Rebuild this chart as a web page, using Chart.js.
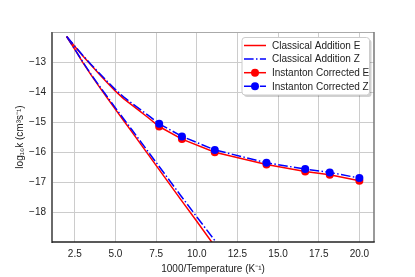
<!DOCTYPE html>
<html>
<head>
<meta charset="utf-8">
<script src="https://cdn.jsdelivr.net/npm/chart.js@4/dist/chart.umd.min.js"></script>
<style>
  html, body { margin: 0; padding: 0; background: #ffffff; }
  #wrap { width: 415px; height: 277px; }
</style>
</head>
<body>
<div id="wrap"><canvas id="c" width="415" height="277"></canvas></div>
<script>
// ---- data ----
const seriesLabels = ["Classical Addition E", "Classical Addition Z", "Instanton Corrected E", "Instanton Corrected Z"];

const classicalX = [2, 2.5, 3, 3.5, 4, 4.5, 5, 5.5, 6, 7, 8, 9, 10, 11, 12];
const classicalE = [-12.15, -12.58, -13.02, -13.43, -13.82, -14.2, -14.58, -14.95, -15.32, -16.07, -16.82, -17.57, -18.31, -19.06, -19.8];
const classicalZ = [-12.15, -12.57, -13.0, -13.41, -13.79, -14.16, -14.53, -14.89, -15.25, -15.98, -16.71, -17.44, -18.16, -18.87, -19.6];

const instantonX = [2, 2.5, 3, 3.5, 4, 4.5, 5, 5.5, 6, 6.5, 7, 7.69, 9.09, 11.11, 14.29, 16.67, 18.18, 20];
const instantonE = [-12.15, -12.48, -12.8, -13.1, -13.4, -13.69, -13.97, -14.22, -14.43, -14.64, -14.85, -15.15, -15.57, -16.01, -16.42, -16.65, -16.76, -16.96];
const instantonZ = [-12.15, -12.47, -12.78, -13.08, -13.37, -13.65, -13.92, -14.16, -14.37, -14.57, -14.77, -15.06, -15.48, -15.93, -16.36, -16.57, -16.68, -16.87];
// markers shown only at these x values
const markedX = [7.69, 9.09, 11.11, 14.29, 16.67, 18.18, 20];

const xTicks = [2.5, 5.0, 7.5, 10.0, 12.5, 15.0, 17.5, 20.0];
const yTicks = [-18, -17, -16, -15, -14, -13];

const xLabel = "1000/Temperature (K\u207B\u00B9)";
const yLabel = "log\u2081\u2080k (cm\u00B3s\u207B\u00B9)";

// ---- helpers ----
const RED = "#ff0000", BLUE = "#0000ff";
const DASHDOT = [9.6, 2.4, 1.5, 2.4];
const FONT = "'Liberation Sans', Arial, Helvetica, sans-serif";
function pts(xs, ys) { return xs.map((x, i) => ({ x: x, y: ys[i] })); }
const markerRadius = instantonX.map(x => markedX.includes(x) ? 4 : 0);

const datasets = [
  { label: seriesLabels[0], data: pts(classicalX, classicalE), borderColor: RED, backgroundColor: RED,
    borderWidth: 1.5, pointRadius: 0, order: 4 },
  { label: seriesLabels[1], data: pts(classicalX, classicalZ), borderColor: BLUE, backgroundColor: BLUE,
    borderWidth: 1.5, borderDash: DASHDOT, pointRadius: 0, order: 3 },
  { label: seriesLabels[2], data: pts(instantonX, instantonE), borderColor: RED, backgroundColor: RED,
    borderWidth: 1.5, pointRadius: markerRadius, pointBorderWidth: 0, order: 2, _marker: true },
  { label: seriesLabels[3], data: pts(instantonX, instantonZ), borderColor: BLUE, backgroundColor: BLUE,
    borderWidth: 1.5, borderDash: DASHDOT, pointRadius: markerRadius, pointBorderWidth: 0, order: 1, _marker: true }
];

function fmtMinus(v) { return String(v).replace("-", "\u2212"); }

const framePlugin = {
  id: "frame",
  afterDraw(chart) {
    const ctx = chart.ctx, a = chart.chartArea;
    ctx.save();
    // spines
    ctx.lineCap = "butt";
    ctx.strokeStyle = "#aaaaaa"; ctx.lineWidth = 1;
    ctx.beginPath(); ctx.moveTo(a.left, a.top + 0.5); ctx.lineTo(a.right, a.top + 0.5); ctx.stroke();
    ctx.strokeStyle = "#777777"; ctx.lineWidth = 1.5;
    ctx.beginPath(); ctx.moveTo(a.right, a.top); ctx.lineTo(a.right, a.bottom); ctx.stroke();
    ctx.strokeStyle = "#6a6a6a"; ctx.lineWidth = 2;
    ctx.beginPath(); ctx.moveTo(a.left, a.top); ctx.lineTo(a.left, a.bottom + 1); ctx.stroke();
    ctx.strokeStyle = "#222222"; ctx.lineWidth = 1.5;
    ctx.beginPath(); ctx.moveTo(a.left, a.bottom); ctx.lineTo(a.right + 0.75, a.bottom); ctx.stroke();

    // legend
    const lx = 242, ly = 37.5, lw = 127.5, lh = 57.5, r = 3;
    function rr(x, y, w, h) {
      ctx.beginPath();
      ctx.moveTo(x + r, y); ctx.lineTo(x + w - r, y); ctx.quadraticCurveTo(x + w, y, x + w, y + r);
      ctx.lineTo(x + w, y + h - r); ctx.quadraticCurveTo(x + w, y + h, x + w - r, y + h);
      ctx.lineTo(x + r, y + h); ctx.quadraticCurveTo(x, y + h, x, y + h - r);
      ctx.lineTo(x, y + r); ctx.quadraticCurveTo(x, y, x + r, y); ctx.closePath();
    }
    ctx.fillStyle = "rgba(0,0,0,0.18)";
    rr(lx + 2, ly + 2, lw, lh); ctx.fill();
    ctx.fillStyle = "#ffffff";
    rr(lx, ly, lw, lh); ctx.fill();
    ctx.strokeStyle = "#cccccc"; ctx.lineWidth = 1;
    rr(lx, ly, lw, lh); ctx.stroke();

    chart.data.datasets.forEach((ds, i) => {
      const y = 45.5 + i * 13.6;
      ctx.strokeStyle = ds.borderColor; ctx.lineWidth = 1.5;
      ctx.setLineDash(ds.borderDash || []);
      ctx.beginPath(); ctx.moveTo(244, y); ctx.lineTo(266, y); ctx.stroke();
      ctx.setLineDash([]);
      if (ds._marker) {
        ctx.fillStyle = ds.backgroundColor;
        ctx.beginPath(); ctx.arc(255, y, 4, 0, Math.PI * 2); ctx.fill();
      }
      ctx.fillStyle = "#222222";
      ctx.font = "10px " + FONT;
      ctx.textBaseline = "middle"; ctx.textAlign = "left";
      ctx.fillText(ds.label, 272, y + 0.5);
    });
    ctx.restore();
  }
};

new Chart(document.getElementById("c"), {
  type: "line",
  data: { datasets: datasets },
  plugins: [framePlugin],
  options: {
    responsive: false,
    animation: false,
    devicePixelRatio: 1,
    layout: { padding: { left: 0, right: 41, top: 32, bottom: 0 } },
    plugins: { legend: { display: false }, tooltip: { enabled: false } },
    elements: { line: { tension: 0 } },
    scales: {
      x: {
        type: "linear", min: 1.1, max: 20.9,
        afterBuildTicks(s) { s.ticks = xTicks.map(v => ({ value: v })); },
        afterFit(s) { s.height = 35; },
        grid: { color: "#cccccc", lineWidth: 1, drawTicks: false },
        border: { display: false },
        ticks: { color: "#222222", font: { family: FONT, size: 10 }, padding: 6,
                 maxRotation: 0, autoSkip: false,
                 callback: v => v.toFixed(1) },
        title: { display: true, text: xLabel, color: "#222222",
                 font: { family: FONT, size: 10 }, padding: { top: 0, bottom: 2 } }
      },
      y: {
        type: "linear", min: -19, max: -12,
        afterBuildTicks(s) { s.ticks = yTicks.map(v => ({ value: v })); },
        afterFit(s) { s.width = 52; },
        grid: { color: "#cccccc", lineWidth: 1, drawTicks: false },
        border: { display: false },
        ticks: { color: "#222222", font: { family: FONT, size: 10 }, padding: 6,
                 autoSkip: false, callback: v => fmtMinus(v) },
        title: { display: true, text: yLabel, color: "#222222",
                 font: { family: FONT, size: 10 }, padding: { top: 14, bottom: 0 } }
      }
    }
  }
});
</script>
</body>
</html>
